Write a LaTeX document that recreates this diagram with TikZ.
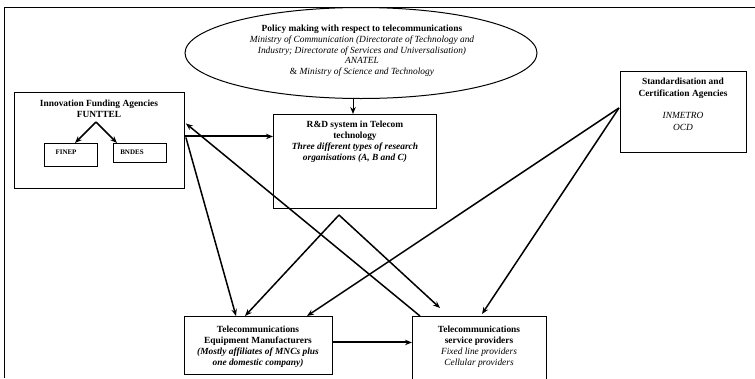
\documentclass[tikz,border=0pt]{standalone}
\usepackage{fontspec}
\setmainfont{Liberation Serif}
\usetikzlibrary{arrows.meta,calc,shapes.geometric}

\begin{document}
\begin{tikzpicture}[x=1pt,y=-1pt,
  box/.style={draw,line width=0.9pt,minimum width=#1,anchor=north west,inner sep=0pt},
  txt/.style={align=center,anchor=north,inner sep=0pt,font=\fontsize{9.4}{11}\selectfont},
  conn/.style={line width=1.5pt,-{Stealth[length=7pt,width=5.5pt]}},
  heavy/.style={line width=2pt,-{Stealth[length=7pt,width=5.5pt]}}]

\useasboundingbox (0,0) rectangle (755,378);
\clip (0,0) rectangle (755,378);

% outer frame: top and left edges
\draw[line width=1pt] (4,378) -- (4,7) -- (755,7);

% policy ellipse
\node[draw,ellipse,line width=1pt,minimum width=352,minimum height=91,inner sep=0pt] (policy) at (361,53) {};
\node[txt,font=\fontsize{9.4}{10.7}\selectfont] (policytxt) at (362,25) {\textbf{Policy making with respect to telecommunications}\\
  \textit{Ministry of Communication (Directorate of Technology and}\\
  \textit{Industry; Directorate of Services and Universalisation)}\\
  \textit{ANATEL}\\
  \& \textit{Ministry of Science and Technology}};

% innovation funding agencies
\node[box=170pt,minimum height=96pt] (innov) at (14,92) {};
\node[txt] (innovtxt) at (99,100) {\textbf{Innovation Funding Agencies}\\ \textbf{FUNTTEL}};
\node[box=53pt,minimum height=23pt] (finep) at (44,143) {};
\node[font=\fontsize{7}{8}\selectfont\bfseries] (fineptxt) at (66,152) {FINEP};
\node[box=53pt,minimum height=19pt] (bndes) at (113,143) {};
\node[font=\fontsize{7}{8}\selectfont\bfseries] (bndestxt) at (132,152) {BNDES};
\coordinate (ffork) at (96,122);
\draw[conn] (ffork) -- ($(finep.north west)+(31,0)$);
\draw[conn] (ffork) -- ($(bndes.north west)+(4,0)$);

% R&D system
\node[box=163pt,minimum height=94pt] (rd) at (273,114) {};
\node[txt] (rdtxt) at (355,121) {\textbf{R\&D system in Telecom}\\ \textbf{technology}\\
  \textbf{\textit{Three different types of research}}\\
  \textbf{\textit{organisations (A, B and C)}}};

% standardisation agencies
\node[box=126pt,minimum height=81pt] (std) at (620,71) {};
\node[txt,font=\fontsize{9.4}{12}\selectfont] (stdtxt) at (683,78) {\textbf{Standardisation and}\\ \textbf{Certification Agencies}\\[10pt]
  \textit{INMETRO}\\ \textit{OCD}};

% equipment manufacturers
\node[box=148pt,minimum height=58pt] (equip) at (184,316) {};
\node[txt] (equiptxt) at (258,326) {\textbf{Telecommunications}\\ \textbf{Equipment Manufacturers}\\
  \textbf{\textit{(Mostly affiliates of MNCs plus}}\\ \textbf{\textit{one domestic company)}}};

% service providers
\node[box=134pt,minimum height=80pt] (serv) at (412,316) {};
\node[txt] (servtxt) at (479,326) {\textbf{Telecommunications}\\ \textbf{service providers}\\
  \textit{Fixed line providers}\\ \textit{Cellular providers}};

% connectors
\draw[conn,line width=1pt] ($(policy.south)+(-8,0)$) -- ($(rd.north west)+(80,0)$);
\draw[heavy] ($(innov.east)+(0,-4)$) -- ($(rd.west)+(0,-25)$);
\draw[conn] ($(innov.east)+(1,-3)$) -- ($(equip.north west)+(52,0)$);
\draw[conn] ($(serv.north west)+(8,0)$) -- ($(innov.east)+(1,-17)$);

\coordinate (rdfork) at (339,215);
\draw[conn] (rdfork) -- ($(equip.north west)+(61,0)$);
\draw[conn] (rdfork) -- ($(serv.north west)+(28,-8)$);

\coordinate (stdfork) at ($(std.west)+(-1,-4)$);
\draw[conn] (stdfork) -- ($(equip.north west)+(123,0)$);
\draw[conn] (stdfork) -- ($(serv.north west)+(70,-2)$);

\draw[heavy] ($(equip.east)+(0,-3)$) -- ($(serv.west)+(0,-14)$);
\end{tikzpicture}
\end{document}
